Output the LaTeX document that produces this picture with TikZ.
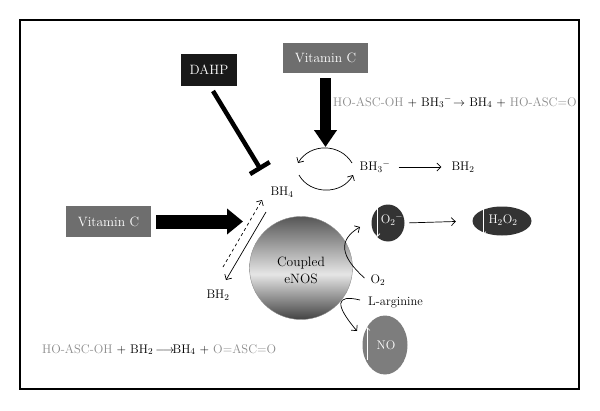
\documentclass[tikz,border=0pt]{standalone}
\usetikzlibrary{arrows.meta,shapes.geometric}
\definecolor{boxgray}{HTML}{6E6E6E}
\definecolor{txtgray}{HTML}{8C8C8C}
\definecolor{darkell}{HTML}{333333}
\definecolor{noell}{HTML}{7D7D7D}
\pgfdeclareverticalshading{enosshade}{100bp}{color(0bp)=(black!74);color(25bp)=(black!74);color(47bp)=(black!10);color(75bp)=(black!66);color(100bp)=(black!66)}
\begin{document}
\begin{tikzpicture}[x=1pt,y=-1pt,
  every node/.style={font=\fontsize{12.5}{14}\selectfont, inner sep=0pt},
  boxnode/.style={minimum width=85pt, minimum height=30pt, fill=boxgray, text=white, font=\fontsize{13.5}{15}\selectfont},
  thinarrow/.style={-{Straight Barb[length=4pt,width=8pt]}, line width=0.7pt},
  whitearrow/.style={-{Straight Barb[length=3pt,width=6pt]}, line width=0.6pt, white},
  ellnode/.style={ellipse, fill=darkell},
]
\useasboundingbox (0,0) rectangle (600,410);
\draw[line width=1.5pt] (20,20) rectangle (579,389);

% boxes
\node[boxnode] (vitc1) at (325.5,58) {Vitamin C};
\node[boxnode, minimum width=56pt, minimum height=32pt, fill=black!90] (dahp) at (209,70) {DAHP};
\node[boxnode, minimum height=31pt] (vitc2) at (108.5,221.5) {Vitamin C};

% coordinates
\coordinate (downtip) at (325.5,147);
\coordinate (righttip) at (243,221.5);
\coordinate (inhs) at (213,91);
\coordinate (inhe) at (261,170);

% big arrows
\draw[line width=11pt, -{Triangle[length=17pt,width=22pt]}, shorten <=5pt] (vitc1.south) -- (downtip);
\draw[line width=14pt, -{Triangle[length=16pt,width=25pt]}, shorten <=5pt] (vitc2.east) -- (righttip);
\draw[line width=4.5pt, -{Bar[width=23pt]}] (inhs) -- (inhe);

% labels
\node (bh4) at (282,192) {BH$_4$};
\node (bh3) at (375,167) {BH$_3{}^{-}$};
\node (bh2r) at (463,167) {BH$_2$};
\node (bh2l) at (218,295) {BH$_2$};
\node (o2lab) at (378,280) {O$_2$};
\node (larg) at (395.5,303) {L-arginine};

% equations
\node[anchor=base west] (eq1) at (333,106) {\textcolor{txtgray}{HO-ASC-OH} + BH$_3{}^{-}\!\rightarrow$ BH$_4$ + \textcolor{txtgray}{HO-ASC=O}};
\node[anchor=base west] (eq2) at (42,353) {\textcolor{txtgray}{HO-ASC-OH} + BH$_2$ $\!\longrightarrow\!$BH$_4$ + \textcolor{txtgray}{O=ASC=O}};

% cycle arrows
\draw[thinarrow] (352,163) .. controls (340,143) and (310,143) .. (298,163);
\draw[thinarrow] (299,175) .. controls (310,195) and (342,195) .. (353,175);
\draw[thinarrow, shorten <=8pt, shorten >=10pt] (bh3.east) -- (bh2r.west);

% BH4 / BH2 arrows
\coordinate (dashs) at (223,267);
\coordinate (dashe) at (262,200);
\coordinate (sols) at (266,212);
\coordinate (sole) at (226,280);
\draw[thinarrow, dashed] (dashs) -- (dashe);
\draw[thinarrow] (sols) -- (sole);

% eNOS
\shade[shading=enosshade] (301,268) circle (51.5);
\node[circle, draw=black!45, line width=0.4pt, minimum size=103pt] (enos) at (301,268) {};
\node[align=center, font=\fontsize{13.5}{17}\selectfont] (enostxt) at (301,270.5) {Coupled\\eNOS};

% O2- and H2O2
\node[ellnode, minimum width=33pt, minimum height=37pt] (o2m) at (388,223) {};
\node[text=white] (o2mt) at (392,220) {O$_2{}^{-}$};
\draw[whitearrow] (377,208) -- (377,237);
\node[ellnode, minimum width=59pt, minimum height=29pt] (h2o2) at (502,221) {};
\node[text=white] (h2o2t) at (503,220) {H$_2$O$_2$};
\draw[whitearrow] (483,209) -- (483,235);
\draw[thinarrow, shorten <=4.5pt, shorten >=16.5pt] (o2m.east) -- (h2o2.west);

% NO
\node[ellipse, fill=noell, minimum width=45pt, minimum height=59pt] (no) at (385,345) {};
\node[text=white] (notxt) at (386,345) {NO};
\draw[whitearrow] (367,360) -- (367,327);

% curved arrows
\coordinate (o2tip) at (360,227);
\coordinate (argtip) at (357,331);
\draw[thinarrow] (o2lab.west) ++(-6,-2) .. controls (340,256) and (338,240) .. (o2tip);
\draw[thinarrow] (larg.west) ++(-8,-3) .. controls (335,294) and (335,305) .. (argtip);
\end{tikzpicture}
\end{document}
